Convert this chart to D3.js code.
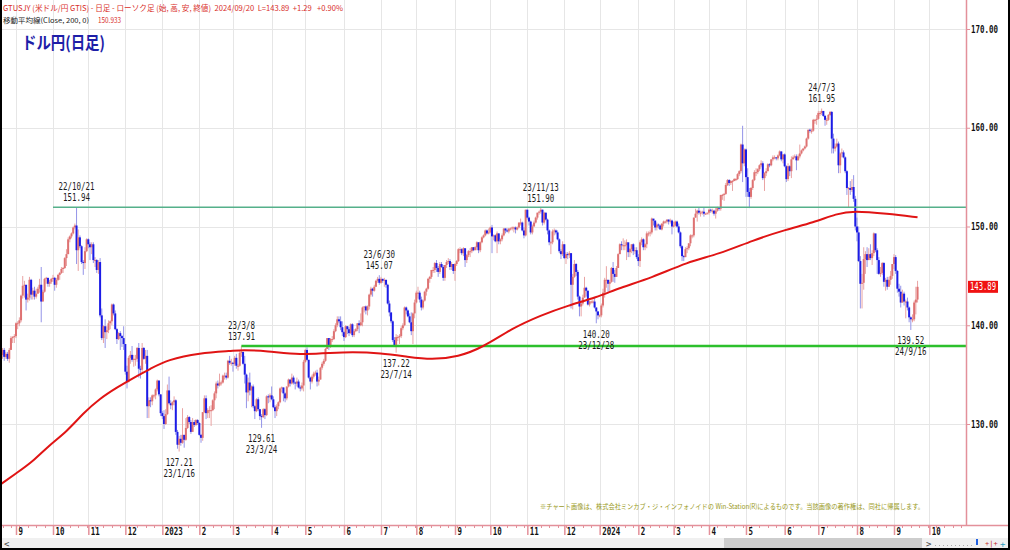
<!DOCTYPE html>
<html><head><meta charset="utf-8">
<script src="https://cdn.jsdelivr.net/npm/d3@7"></script>
<style>body{margin:0;background:#fff}svg{display:block}</style>
</head><body><svg id="c" width="1010" height="550"></svg>
<script>
// ---------------- DATA ----------------
const dataStart = "2022-08-19", dataEnd = "2024-09-20", calendarEnd = "2024-10-31";
const firstOpen = 135.9;
const months = ["2022-08","2022-09","2022-10","2022-11","2022-12","2023-01","2023-02","2023-03","2023-04","2023-05","2023-06","2023-07","2023-08","2023-09","2023-10","2023-11","2023-12","2024-01","2024-02","2024-03","2024-04","2024-05","2024-06","2024-07","2024-08","2024-09"];
const closes = [
[137.0,137.5,136.8,137.1,136.6,137.5,138.7,138.8,138.9],
[140.2,140.2,140.5,143.0,144.0,144.1,142.6,142.8,144.6,143.1,143.5,142.9,143.2,143.7,144.1,142.4,143.4,144.7,144.8,144.2,144.4,144.7],
[144.8,144.1,144.6,145.1,145.3,145.7,145.8,146.8,147.2,148.7,149.0,149.3,149.9,150.1,147.6,148.9,148.0,146.4,146.3,147.5,148.7],
[148.2,147.9,148.2,146.6,146.6,145.6,146.4,141.0,138.7,139.9,139.3,139.5,140.2,140.4,142.1,141.2,139.6,138.6,139.2,138.9,138.7,138.1],
[135.3,134.3,136.7,137.0,136.5,136.6,136.6,137.7,135.6,135.5,137.7,136.6,136.9,131.8,132.4,132.3,132.9,132.9,133.5,134.4,133.0,131.1],
[130.8,130.0,131.0,133.4,132.1,131.9,132.2,132.4,129.2,127.9,128.5,128.1,128.9,128.4,129.6,130.7,130.2,129.2,130.2,129.9,130.4,130.1],
[128.9,128.6,131.2,132.6,131.1,131.4,131.4,131.4,132.4,133.1,134.1,133.9,134.2,134.2,134.9,134.9,134.7,136.4,136.2,136.2],
[136.1,136.7,135.9,135.9,137.2,137.3,136.1,135.0,133.2,134.2,133.4,133.8,131.8,131.3,132.5,131.5,130.8,130.7,131.5,130.9,132.8,132.7,132.9],
[132.5,131.7,131.3,131.8,132.2,133.6,133.7,133.1,132.6,133.8,134.5,134.1,134.7,134.2,134.1,134.3,133.7,133.6,133.9,136.3],
[137.5,136.5,134.7,134.3,134.8,135.1,135.2,134.3,134.5,135.7,136.1,136.4,137.6,138.7,137.9,138.6,138.6,139.4,140.0,140.6,140.4,139.8,139.3],
[138.8,139.9,139.6,139.2,140.1,139.0,139.4,139.6,140.2,140.0,140.3,141.8,141.9,141.5,141.9,143.1,143.7,143.5,143.9,144.5,144.7,144.3],
[144.7,144.5,144.6,144.1,142.2,141.3,140.4,138.5,138.0,138.8,138.8,138.9,139.7,140.0,141.8,141.5,140.9,140.3,139.4,141.2,142.3],
[143.3,143.3,142.6,141.8,142.5,143.4,143.7,144.7,144.9,145.6,145.6,146.3,145.8,145.4,146.2,145.9,144.8,146.1,146.4,146.5,145.9,146.2,145.5],
[146.2,146.5,147.7,147.7,147.3,147.8,146.6,147.1,147.5,147.5,147.9,147.6,147.9,148.4,147.6,148.4,148.9,149.1,149.6,149.3,149.4],
[149.9,149.0,149.1,148.5,149.3,148.5,148.7,149.1,149.8,149.6,149.5,149.8,149.8,149.9,149.9,149.7,149.9,150.4,150.4,149.6,149.1,151.7],
[150.9,150.5,149.4,150.0,150.4,150.9,151.4,151.5,151.7,150.4,151.4,150.7,149.6,148.4,148.4,149.5,149.6,149.4,148.7,147.5,147.2,148.2],
[146.8,147.2,147.1,147.3,144.1,144.9,146.2,145.4,142.9,141.9,142.2,142.8,143.8,143.5,142.1,142.4,142.4,142.4,141.8,141.4,141.0],
[141.0,142.0,143.3,144.6,144.6,144.2,144.4,145.8,145.2,144.9,145.8,147.2,148.2,148.1,148.1,148.1,148.4,147.4,147.7,148.2,147.5,147.6,146.9],
[146.5,148.4,148.7,147.9,148.2,149.3,149.3,149.4,150.8,150.6,149.9,150.2,150.1,149.7,150.3,150.5,150.5,150.7,150.5,150.6,150.0],
[150.1,150.5,150.0,149.4,148.0,147.0,146.9,147.7,147.8,148.3,149.1,149.1,150.9,151.3,151.6,151.4,151.4,151.5,151.3,151.3,151.4],
[151.7,151.6,151.6,151.3,151.6,151.9,151.8,153.2,153.2,153.3,154.2,154.7,154.4,154.6,154.6,154.8,154.8,155.3,155.6,158.3,156.4,157.8],
[155.0,153.5,153.0,153.9,154.7,155.5,155.5,155.8,156.2,156.4,154.9,155.4,155.6,156.3,156.2,156.8,157.0,157.0,156.9,157.2,157.6,156.8,157.3],
[156.1,154.8,156.1,155.6,156.8,157.0,157.1,156.7,157.1,157.4,157.7,157.9,158.1,158.9,159.8,159.7,159.7,160.8,160.8,160.9],
[161.5,161.5,161.7,161.2,160.8,160.8,161.3,161.6,158.9,157.9,158.1,158.4,156.2,157.4,157.5,157.0,155.6,153.9,153.9,153.7,154.0,152.8,150.0],
[149.4,146.5,144.2,144.3,146.7,147.2,146.6,147.2,146.8,147.3,149.3,147.6,146.6,145.2,145.3,146.3,144.4,144.6,143.9,144.6,145.0,146.2],
[146.9,145.5,143.7,143.4,142.3,143.2,142.4,142.4,141.8,140.8,140.6,140.6,142.3,142.6,143.89]
];
const highs = [
[137.2,137.7,137.7,137.3,137.3,137.7,138.9,138.9,139.1],
[140.3,140.4,140.8,143.1,144.99,144.5,144.0,143.2,144.9,144.7,143.8,143.9,143.7,143.9,144.7,145.9,143.6,144.8,144.9,144.8,144.6,144.8],
[145.1,144.9,144.8,145.2,145.4,145.9,145.9,146.9,147.7,148.9,149.1,149.4,150.0,150.3,151.94,149.7,149.1,148.1,146.6,147.9,148.8],
[148.8,148.4,148.4,148.4,146.9,146.7,146.6,146.8,141.7,140.0,140.6,139.9,140.5,140.5,142.2,142.2,141.5,139.7,139.3,139.4,139.0,139.9],
[138.1,135.9,136.9,137.4,137.9,137.0,137.0,137.8,138.2,135.9,138.2,137.8,137.5,137.5,132.7,132.7,133.0,133.0,133.6,134.5,134.4,133.0],
[131.3,131.4,131.5,134.0,134.8,132.4,132.3,132.8,132.5,129.4,128.8,128.9,131.6,128.9,130.6,130.9,130.8,130.4,130.6,130.4,130.5,130.5],
[130.2,129.0,131.2,132.9,132.9,131.6,131.8,131.9,132.5,133.3,134.3,134.4,135.1,134.4,135.0,135.2,135.2,136.5,136.9,136.6],
[136.3,136.9,137.1,136.1,137.4,137.91,137.3,136.9,135.1,134.7,135.2,133.9,134.0,131.9,132.6,132.7,131.5,131.0,131.6,131.6,132.9,133.0,133.1],
[133.8,132.8,131.9,132.0,132.3,133.7,133.8,133.7,133.2,133.8,134.6,134.5,135.1,134.9,134.3,134.7,134.5,133.9,134.2,136.5],
[137.6,137.77,136.5,134.8,135.0,135.3,135.4,135.5,134.8,135.8,136.3,136.6,137.7,138.7,138.7,138.7,138.9,139.6,140.2,140.9,140.9,140.9,140.4],
[139.4,140.0,139.9,139.8,140.2,140.2,139.6,139.7,140.2,140.5,141.2,141.9,141.9,142.0,142.0,143.2,143.9,143.8,144.1,144.6,144.9,145.07],
[144.9,144.7,144.8,144.6,144.2,142.5,141.3,140.5,138.8,139.1,139.0,139.1,139.9,140.2,141.9,141.9,141.6,141.2,141.3,141.3,142.6],
[143.5,143.9,143.5,142.9,142.6,143.5,143.8,144.8,145.0,145.6,145.9,146.4,146.6,146.0,146.4,146.4,146.1,146.1,146.6,146.8,146.7,146.4,146.2],
[146.3,146.6,147.8,147.9,147.8,147.9,147.6,147.2,147.6,147.8,147.9,147.9,148.0,148.5,148.4,148.5,149.0,149.2,149.7,149.7,149.8],
[150.0,150.16,149.2,149.2,149.5,149.3,148.8,149.3,149.8,149.8,149.8,149.8,149.9,150.0,150.0,150.0,150.0,150.4,150.8,150.5,149.9,151.7],
[151.7,151.0,150.6,150.2,150.6,151.0,151.4,151.6,151.90,151.7,151.5,151.4,150.8,149.7,148.5,149.7,149.8,149.7,149.6,148.8,147.7,148.5],
[148.2,147.4,147.4,147.5,147.3,145.2,146.6,146.3,145.6,143.0,142.5,143.1,144.9,143.9,143.5,142.5,142.5,142.6,142.8,141.8,141.4],
[141.1,142.2,143.7,144.8,145.98,144.6,144.6,145.9,146.4,145.6,146.0,147.3,148.3,148.5,148.8,148.6,148.7,148.3,147.8,148.2,148.3,147.9,147.9],
[147.2,148.6,148.9,148.8,148.3,149.5,149.5,149.6,150.9,150.7,150.6,150.4,150.3,150.2,150.3,150.6,150.6,150.7,150.7,150.8,150.7],
[150.5,150.6,150.6,150.3,149.5,148.1,147.1,147.9,148.0,148.3,149.2,149.2,150.9,151.8,151.7,151.9,151.6,151.6,151.97,151.4,151.4],
[151.8,151.8,151.8,151.7,151.9,152.0,151.9,153.2,153.3,153.4,154.4,154.8,154.8,154.7,154.7,154.9,154.9,155.4,155.7,158.4,160.2,157.9],
[157.9,155.9,153.9,154.0,154.8,155.7,155.9,155.9,156.3,156.7,156.6,155.5,155.9,156.4,156.4,156.8,157.2,157.2,157.0,157.3,157.7,157.6,157.3],
[157.4,156.2,156.4,156.2,157.1,157.2,157.3,157.3,157.3,158.3,157.8,157.9,158.2,159.0,159.8,159.9,159.9,160.9,160.9,161.3],
[161.7,161.7,161.95,161.7,161.3,161.0,161.4,161.7,161.7,159.4,158.4,158.9,158.6,157.5,157.9,157.7,157.1,155.7,154.0,154.6,154.8,155.2,153.1],
[150.9,150.0,147.0,145.2,147.9,147.5,147.9,147.8,148.2,147.6,149.4,149.0,147.8,146.9,145.9,146.4,146.4,144.8,144.9,144.9,145.5,146.2],
[147.2,147.1,145.6,144.2,144.0,143.6,143.4,142.6,142.8,141.9,140.9,141.1,142.5,143.9,144.5]
];
const lows = [
[135.8,136.6,136.4,136.6,136.4,136.2,137.6,138.2,138.2],
[138.7,139.6,139.9,140.3,142.7,142.8,141.5,142.3,142.5,142.6,142.6,142.6,142.7,143.2,143.3,140.3,142.5,143.3,144.2,143.9,143.9,144.2],
[144.4,143.5,143.8,144.5,144.6,145.2,145.3,145.7,146.0,147.2,148.4,148.8,149.2,149.7,146.2,145.5,147.8,146.2,145.1,145.7,147.4],
[147.8,146.6,147.2,146.3,145.9,145.3,145.2,140.8,138.5,138.2,137.7,138.6,139.2,139.6,140.0,141.0,139.5,138.1,138.5,137.5,137.8,137.5],
[135.0,133.6,134.2,136.1,136.3,135.8,135.9,136.3,134.7,134.6,135.1,136.5,136.1,130.6,130.6,131.7,131.9,132.6,132.5,133.3,132.8,130.8],
[130.5,129.5,129.9,130.9,132.0,131.5,131.4,131.9,128.9,127.5,127.21,127.8,128.0,127.6,128.3,129.5,130.0,129.0,129.2,129.7,129.8,129.9],
[128.8,128.1,128.3,131.1,130.5,130.6,130.6,129.8,131.3,131.5,132.6,133.6,133.8,133.9,134.1,134.5,134.5,134.6,136.0,135.9],
[135.3,135.9,135.6,135.4,135.8,136.8,136.0,134.1,131.6,132.3,132.9,131.7,131.6,130.5,131.2,131.3,130.4,129.61,130.6,130.5,130.8,132.1,132.2],
[132.4,131.6,130.6,130.8,131.5,132.1,133.2,132.3,132.2,132.4,133.7,133.8,134.0,134.0,133.5,133.8,133.6,133.3,133.4,133.3],
[136.2,136.4,134.6,133.5,134.1,134.6,134.9,133.8,133.9,134.5,135.5,135.9,136.3,137.6,137.5,137.7,138.3,138.5,139.3,139.8,140.2,139.5,138.9],
[138.4,138.7,139.1,138.9,139.1,138.8,138.8,139.3,139.4,139.2,139.9,139.9,141.3,141.1,141.0,141.6,142.9,142.9,143.4,143.9,144.3,144.1],
[144.2,144.3,143.9,143.8,142.1,140.9,140.2,138.3,137.8,137.22,138.4,138.1,138.7,139.5,139.9,141.1,140.8,140.2,139.0,138.1,140.7],
[142.2,142.7,142.3,141.5,141.6,142.4,143.0,143.6,144.3,144.7,145.3,145.3,145.4,144.9,145.2,145.8,144.5,144.5,145.8,146.2,145.6,145.6,145.2],
[144.5,146.0,146.4,147.3,147.1,147.0,145.9,146.3,146.9,146.9,147.3,147.5,147.6,147.6,147.3,147.4,148.3,148.8,149.0,149.2,149.2],
[149.3,147.3,148.6,148.4,147.3,148.2,148.2,148.5,149.0,149.3,149.4,149.3,149.6,149.6,149.4,149.3,149.6,149.8,150.1,149.5,148.8,149.0],
[150.7,150.1,149.2,149.2,150.0,150.3,150.7,151.2,151.3,150.1,150.2,150.6,149.2,148.1,147.2,148.2,149.1,149.2,148.6,147.3,146.7,147.0],
[146.7,146.2,146.7,146.8,141.7,141.6,144.8,145.0,142.6,140.9,140.9,142.0,142.8,142.9,142.0,141.9,142.2,142.2,141.7,140.2,140.6],
[140.8,140.8,141.8,142.8,143.8,143.4,143.4,144.3,144.4,144.3,144.9,145.8,147.2,147.6,147.6,147.6,146.6,146.9,146.9,147.3,147.1,147.2,146.7],
[146.0,145.9,148.1,147.6,147.6,147.8,149.0,149.0,149.2,150.1,149.6,149.6,149.8,149.7,149.6,150.0,150.3,150.3,150.2,150.3,149.2],
[149.9,150.0,149.9,149.3,147.8,146.5,146.5,146.9,147.3,147.6,148.0,148.8,148.9,150.9,150.5,151.2,151.0,151.2,151.0,151.2,151.2],
[151.2,151.4,151.3,151.1,150.8,151.5,151.6,151.6,152.7,152.6,153.2,154.1,154.1,154.2,153.6,154.6,154.6,154.7,155.1,155.4,154.5,156.1],
[153.0,153.0,151.86,152.8,153.7,154.6,155.1,155.3,155.6,156.0,154.7,153.6,155.1,155.6,156.0,156.1,156.6,156.8,156.7,156.7,157.1,156.6,156.4],
[156.0,154.5,154.6,155.1,154.9,156.8,156.9,155.7,156.7,156.9,157.3,157.6,157.8,158.0,158.8,159.5,159.4,159.6,160.4,160.3],
[160.8,161.2,161.3,161.1,160.2,160.3,160.7,161.2,157.4,157.4,157.6,158.0,155.4,155.4,157.0,156.9,155.4,153.2,151.9,153.2,153.5,152.5,149.6],
[148.5,146.4,141.7,141.7,143.6,145.2,145.9,146.6,146.6,146.1,147.0,147.4,145.2,145.1,144.9,145.1,143.9,143.5,143.6,143.9,144.1,144.7],
[145.7,145.2,143.3,142.9,141.8,142.3,142.0,140.7,141.5,140.3,139.52,140.3,140.4,141.1,142.3]
];
// 200-day moving average
const maDates = ["2022-08-19","2022-09-01","2022-09-15","2022-09-29","2022-10-13","2022-10-27","2022-11-10","2022-11-24","2022-12-08","2022-12-22","2023-01-05","2023-02-01","2023-03-01","2023-03-08","2023-03-29","2023-04-26","2023-05-23","2023-06-07","2023-07-03","2023-07-25","2023-08-14","2023-09-05","2023-09-26","2023-10-19","2023-11-13","2023-12-05","2023-12-28","2024-01-17","2024-02-13","2024-03-13","2024-04-09","2024-05-07","2024-06-04","2024-06-26","2024-07-16","2024-07-30","2024-08-27","2024-09-20"];
const maValues = [123.9,125.0,126.2,127.9,129.2,131.1,132.6,133.7,134.7,135.6,136.5,137.2,137.4,137.5,137.4,137.0,137.2,137.3,137.2,136.8,136.5,136.8,137.8,139.7,141.0,142.0,142.8,143.8,144.8,146.4,147.2,148.6,149.7,150.4,151.3,151.6,151.3,150.933];
// horizontal levels
const levelValues = [151.94, 137.91];
const levelStarts = ["2022-10-03", "2023-03-08"];
// annotations
const annDates = ["2022-10-21","2023-01-16","2023-03-08","2023-03-24","2023-06-30","2023-07-14","2023-11-13","2023-12-28","2024-07-03","2024-09-16"];
const annValues = [151.94,127.21,137.91,129.61,145.07,137.22,151.90,140.20,161.95,139.52];
const annDateLabels = ["22/10/21","23/1/16","23/3/8","23/3/24","23/6/30","23/7/14","23/11/13","23/12/28","24/7/3","24/9/16"];
const annSides = ["high","low","high","low","high","low","high","low","high","low"];
// axes
const yTicks = [130,140,150,160,170];
const tickMonths = ["2022-09","2022-10","2022-11","2022-12","2023-01","2023-02","2023-03","2023-04","2023-05","2023-06","2023-07","2023-08","2023-09","2023-10","2023-11","2023-12","2024-01","2024-02","2024-03","2024-04","2024-05","2024-06","2024-07","2024-08","2024-09","2024-10"];
const tickLabels = ["9","10","11","12","2023","2","3","4","5","6","7","8","9","10","11","12","2024","2","3","4","5","6","7","8","9","10"];
const lastPrice = 143.89;
const maLast = "150.933";
const headerLine = "GTUSJY (米ドル/円 GTIS) - 日足 - ローソク足 (始, 高, 安, 終値)  2024/09/20  L=143.89  +1.29   +0.90%";
const maLabel = "移動平均線(Close, 200, 0)";

// ---------------- BUILD ----------------
const svg = d3.select("#c");
const PL = 0, PR = 966, PT = 0, PB = 525;
const pink = "#e3909a";
const mono = "'DejaVu Sans Mono','Liberation Mono',monospace";
const jp = "'Noto Sans CJK JP','Noto Sans',sans-serif";

// weekday calendar
const calendar = [];
{
  let d = new Date(Date.UTC(2022,7,19));
  const end = new Date(calendarEnd + "T00:00:00Z");
  while (d <= end) {
    const wd = d.getUTCDay();
    if (wd !== 0 && wd !== 6) calendar.push(d.toISOString().slice(0,10));
    d = new Date(d.getTime() + 86400000);
  }
}
const idx = {}; calendar.forEach((k,i)=>idx[k]=i);
const firstOfMonth = {};
calendar.forEach((k,i)=>{ const m = k.slice(0,7); if(!(m in firstOfMonth)) firstOfMonth[m]=i; });

// candles
const candles = [];
let prev = firstOpen;
months.forEach((m, mi) => {
  const days = calendar.filter(k => k.slice(0,7) === m && k >= dataStart && k <= dataEnd);
  days.forEach((k, j) => {
    if (j >= closes[mi].length) return;
    const c = closes[mi][j];
    candles.push({k, i: idx[k], o: prev, h: highs[mi][j], l: lows[mi][j], c});
    prev = c;
  });
});

const x = d3.scaleLinear().domain([idx["2022-09-01"], idx["2024-09-02"]]).range([16, 894]);
const y = d3.scaleLinear().domain([130, 170]).range([424, 29]);

svg.append("rect").attr("width",1010).attr("height",550).attr("fill","#fff");
svg.append("defs").append("clipPath").attr("id","plot").append("rect")
  .attr("x",PL).attr("y",PT).attr("width",PR-PL).attr("height",PB-PT);

// grid
const grid = svg.append("g");
grid.selectAll("line.v").data(tickMonths).join("line")
  .attr("x1",d=>Math.round(x(firstOfMonth[d]))+0.5).attr("x2",d=>Math.round(x(firstOfMonth[d]))+0.5)
  .attr("y1",PT).attr("y2",PB).attr("stroke","#e6e6e6").attr("stroke-width",1);
grid.selectAll("line.h").data(yTicks).join("line")
  .attr("x1",PL).attr("x2",PR).attr("y1",d=>Math.round(y(d))+0.5).attr("y2",d=>Math.round(y(d))+0.5)
  .attr("stroke","#e6e6e6").attr("stroke-width",1);

const plot = svg.append("g").attr("clip-path","url(#plot)");

// candles
const cg = plot.append("g");
cg.selectAll("line").data(candles).join("line")
  .attr("x1",d=>x(d.i)).attr("x2",d=>x(d.i))
  .attr("y1",d=>y(d.h)).attr("y2",d=>y(d.l))
  .attr("stroke",d=>d.c>=d.o?"#e9a3a3":"#9494e8").attr("stroke-width",1);
cg.selectAll("rect").data(candles).join("rect")
  .attr("x",d=>x(d.i)-1).attr("width",2)
  .attr("y",d=>y(Math.max(d.o,d.c)))
  .attr("height",d=>Math.max(1, Math.abs(y(d.o)-y(d.c))))
  .attr("fill",d=>d.c>=d.o?"#de7272":"#1c1ce6");

// levels
plot.selectAll("line.lvl").data(levelValues).join("line")
  .attr("x1",(d,i)=>x(idx[levelStarts[i]])).attr("x2",PR)
  .attr("y1",d=>y(d)).attr("y2",d=>y(d))
  .attr("stroke",(d,i)=>i===0?"#55b08a":"#2cc02c")
  .attr("stroke-width",(d,i)=>i===0?1.5:2.5);

// MA
const maData = maDates.map((k,i)=>({i: idx[k], v: maValues[i]}));
plot.append("path").datum(maData)
  .attr("d", d3.line().x(d=>x(d.i)).y(d=>y(d.v)).curve(d3.curveBasis))
  .attr("fill","none").attr("stroke","#e01414").attr("stroke-width",2);

// annotations
const ag = svg.append("g").attr("font-family",mono).attr("font-size",10).attr("fill","#1a1a1a");
annDates.forEach((k,n)=>{
  const cx = x(idx[k]), py = y(annValues[n]);
  const val = annValues[n].toFixed(2), dl = annDateLabels[n];
  const lines = annSides[n]==="high" ? [[dl, py-17],[val, py-6]] : [[val, py+14.5],[dl, py+25.5]];
  lines.forEach(([t,yy])=>{
    ag.append("text").attr("x",cx).attr("y",yy).attr("text-anchor","middle")
      .attr("textLength",t.length*4.5).attr("lengthAdjust","spacingAndGlyphs").text(t);
  });
});

// right axis
svg.append("line").attr("x1",PR+0.5).attr("x2",PR+0.5).attr("y1",0).attr("y2",PB).attr("stroke",pink).attr("stroke-width",1.5);
const ya = svg.append("g").attr("transform",`translate(${PR},0)`)
  .call(d3.axisRight(y).tickValues(yTicks).tickSize(4).tickFormat(d3.format(".2f")));
ya.select(".domain").remove();
ya.selectAll("line").attr("stroke",pink);
ya.selectAll("text").attr("x",5).attr("font-family",mono).attr("font-size",10).attr("font-weight","bold").attr("fill","#111")
  .attr("textLength",27).attr("lengthAdjust","spacingAndGlyphs");

// last price label
const ly = y(lastPrice);
svg.append("rect").attr("x",968).attr("y",ly-6).attr("width",30).attr("height",12).attr("fill","#f01212");
svg.append("text").attr("x",970).attr("y",ly+3.5).attr("font-family",mono).attr("font-size",10)
  .attr("fill","#fff").attr("textLength",26).attr("lengthAdjust","spacingAndGlyphs").text(lastPrice.toFixed(2));

// bottom axis
svg.append("line").attr("x1",0).attr("x2",1008).attr("y1",PB+0.5).attr("y2",PB+0.5).attr("stroke",pink).attr("stroke-width",1.5);
const weekTicks = calendar.filter(k=>new Date(k+"T00:00:00Z").getUTCDay()===1).map(k=>idx[k]).filter(i=>x(i)>=0 && x(i)<=PR);
svg.append("g").selectAll("line").data(weekTicks).join("line")
  .attr("x1",d=>Math.round(x(d))+0.5).attr("x2",d=>Math.round(x(d))+0.5)
  .attr("y1",PB).attr("y2",PB+3).attr("stroke",pink);
const xa = svg.append("g").attr("transform",`translate(0,${PB})`)
  .call(d3.axisBottom(x).tickValues(tickMonths.map(m=>firstOfMonth[m])).tickSize(10).tickFormat((d,i)=>tickLabels[i]));
xa.select(".domain").remove();
xa.selectAll("line").attr("stroke",pink).attr("stroke-width",1.5);
xa.selectAll("text").attr("text-anchor","start").attr("x",2).attr("y",3).attr("dy","0.71em")
  .attr("font-family",mono).attr("font-size",10).attr("font-weight","bold").attr("fill","#111")
  .each(function(){ const t=d3.select(this).text(); d3.select(this).attr("textLength",t.length*4.5).attr("lengthAdjust","spacingAndGlyphs"); });

// scrollbar
svg.append("rect").attr("x",2).attr("y",538).attr("width",1006).attr("height",10).attr("fill","#f0f0f0");
svg.append("rect").attr("x",724).attr("y",538).attr("width",198).attr("height",10).attr("fill","#cdcdcd");
svg.append("text").attr("x",4).attr("y",547).attr("font-family",mono).attr("font-size",9).attr("fill","#444").text("<");
svg.append("text").attr("x",926).attr("y",547).attr("font-family",mono).attr("font-size",9).attr("fill","#444").text(">");
svg.append("line").attr("x1",935).attr("x2",975).attr("y1",545.5).attr("y2",545.5).attr("stroke","#aaa").attr("stroke-dasharray","1,3");
svg.append("rect").attr("x",976).attr("y",539).attr("width",2).attr("height",6).attr("fill","#2060e0");
svg.append("text").attr("x",985).attr("y",546).attr("font-family",mono).attr("font-size",7).attr("fill","#c03030").text("+|+");
svg.append("text").attr("x",1000).attr("y",547).attr("font-family",mono).attr("font-size",9).attr("fill","#30a0c0").text("+");

// frame
svg.append("line").attr("x1",1).attr("x2",1).attr("y1",0).attr("y2",550).attr("stroke","#000").attr("stroke-width",2);
svg.append("line").attr("x1",0).attr("x2",1010).attr("y1",549).attr("y2",549).attr("stroke","#000").attr("stroke-width",2);
svg.append("line").attr("x1",1009).attr("x2",1009).attr("y1",0).attr("y2",550).attr("stroke","#000").attr("stroke-width",2);

// header
const hdr = "#d9302c";
svg.append("text").attr("x",3).attr("y",11).attr("font-family",jp).attr("font-size",8).attr("fill",hdr)
  .style("white-space","pre")
  .attr("textLength",340).attr("lengthAdjust","spacingAndGlyphs").text(headerLine);
svg.append("text").attr("x",3).attr("y",23).attr("font-family",jp).attr("font-size",7).attr("fill","#222")
  .attr("textLength",86).attr("lengthAdjust","spacingAndGlyphs").text(maLabel);
svg.append("text").attr("x",98).attr("y",23).attr("font-family",jp).attr("font-size",8).attr("fill",hdr)
  .attr("textLength",23).attr("lengthAdjust","spacingAndGlyphs").text(maLast);

// title
svg.append("text").attr("x",22).attr("y",49).attr("font-family",jp).attr("font-size",17).attr("font-weight","bold")
  .attr("fill","#1e1ea8").attr("textLength",83).attr("lengthAdjust","spacingAndGlyphs").text("ドル円(日足)");

// footnote
svg.append("text").attr("x",540).attr("y",509).attr("font-family",jp).attr("font-size",7).attr("fill","#9a9a1e")
  .attr("textLength",384).attr("lengthAdjust","spacingAndGlyphs")
  .text("※チャート画像は、株式会社ミンカブ・ジ・インフォノイドの Win-Station(R)によるものです。当該画像の著作権は、同社に帰属します。");
</script>
</body></html>
